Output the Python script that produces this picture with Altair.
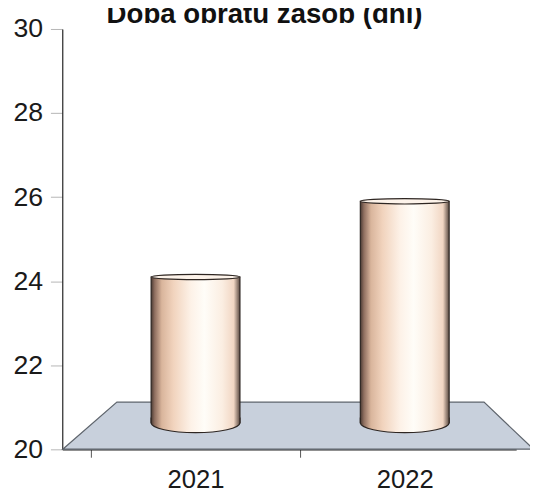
import altair as alt
import pandas as pd

# ---- data ----
years = ["2021", "2022"]
values = [24.1, 25.9]
title_text = "Doba obratu zásob (dní)"
y_ticks = [20, 22, 24, 26, 28, 30]

FONT = "Liberation Sans"
W, H = 460, 426
BASE = 20.63  # visual base of the cylinders (3D floor)
STEP = 212    # band step in px (for moving x ticks between categories)

df = pd.DataFrame({"year": years, "value": values})

x_scale = alt.Scale(domain=years, paddingInner=0.5755, paddingOuter=0.3726, align=0.57)
y_scale = alt.Scale(domain=[20, 30], nice=False, zero=False)

grad = alt.Gradient(
    gradient="linear", x1=0, x2=1, y1=0, y2=0,
    stops=[
        alt.GradientStop(offset=0.0, color="#4a3a33"),
        alt.GradientStop(offset=0.04, color="#8f6f60"),
        alt.GradientStop(offset=0.12, color="#d9b59c"),
        alt.GradientStop(offset=0.25, color="#f1d3bd"),
        alt.GradientStop(offset=0.45, color="#fdf2e8"),
        alt.GradientStop(offset=0.6, color="#fffdf8"),
        alt.GradientStop(offset=0.8, color="#fbeee2"),
        alt.GradientStop(offset=0.93, color="#f1d6c3"),
        alt.GradientStop(offset=1.0, color="#5a4a42"),
    ],
)

X = alt.X("year:N", scale=x_scale, title=None,
          axis=alt.Axis(tickOffset=-STEP / 2, labelOffset=STEP / 2))
Y = alt.Y("value:Q", scale=y_scale, title=None, axis=alt.Axis(values=y_ticks))

bars = alt.Chart(df).mark_bar(
    fill=grad, stroke="#2e2622", strokeWidth=1.2
).encode(x=X, y=Y, y2=alt.datum(BASE))

# floor (decorative 3D plane)
floor = alt.Chart(pd.DataFrame({"k": [0]})).mark_point(
    shape="M-1,0.1 L1,0.1 L0.79,-0.1 L-0.77,-0.1 Z",
    size=477 ** 2, filled=True, fill="#c8d0dc", stroke="#5f656d",
    strokeWidth=1.2, fillOpacity=1, strokeOpacity=1,
).encode(x=alt.value(239), y=alt.value(402))

bottom = alt.Chart(df).mark_point(
    shape="M-1,-0.12 L-1,0 A1,0.22 0 0,0 1,0 L1,-0.12",
    size=90 ** 2, filled=True, fill=grad, stroke="#2e2622", strokeWidth=1.2,
    fillOpacity=1, strokeOpacity=1,
).encode(
    x=X, y=alt.Y("base:Q", scale=y_scale, title=None, axis=alt.Axis(values=y_ticks))
).transform_calculate(base=str(BASE))

top = alt.Chart(df).mark_point(
    shape="M-1,0 A1,0.06 0 1,0 1,0 A1,0.06 0 1,0 -1,0 Z",
    size=90 ** 2, filled=True, fill="#fdf3ea", stroke="#2e2622", strokeWidth=1.2,
    fillOpacity=1, strokeOpacity=1,
).encode(x=X, y=Y)

title = alt.Chart(pd.DataFrame({"t": [title_text]})).mark_text(
    font=FONT, fontSize=28, fontWeight="bold", align="center",
    baseline="alphabetic", color="#111",
).encode(text="t:N", x=alt.value(205), y=alt.value(-6))

chart = alt.layer(floor, bars, bottom, top, title).properties(
    width=W, height=H,
    autosize=alt.AutoSizeParams(type="none"),
    padding={"left": 55, "top": 18, "right": 14, "bottom": 42},
    background="white",
).configure_view(stroke=None).configure_axis(
    labelFont=FONT, labelColor="#1a1a1a",
    domainColor="#222", domainWidth=1.2, grid=False, zindex=1,
).configure_axisX(
    labelAngle=0, labelFontSize=26, labelPadding=10, tickSize=8, tickColor="#555",
).configure_axisY(
    labelFontSize=27, labelPadding=8, tickSize=12, tickColor="#b5b5b5",
)

chart.save("out.html", embed_options={"renderer": "svg", "actions": False})
